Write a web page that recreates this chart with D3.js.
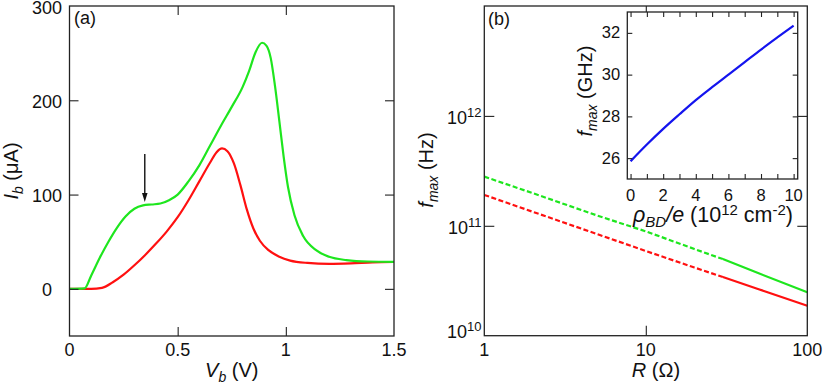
<!DOCTYPE html>
<html>
<head>
<meta charset="utf-8">
<script src="https://cdn.jsdelivr.net/npm/d3@7"></script>
<style>
  body { margin: 0; background: #fff; }
  svg text { font-family: "Liberation Sans", Arial, sans-serif; fill: #111; }
</style>
</head>
<body>
<div id="chart"></div>
<script>
// panel (a): I_b vs V_b
const greenVb = [0, 0.07, 0.1, 0.14, 0.18, 0.22, 0.26, 0.3, 0.34, 0.38, 0.42, 0.46, 0.5, 0.55, 0.6, 0.65, 0.7, 0.75, 0.8, 0.83, 0.86, 0.89, 0.91, 0.93, 0.95, 0.97, 0.99, 1.01, 1.04, 1.08, 1.14, 1.2, 1.28, 1.38, 1.5];
const greenIb = [0, 0.5, 14, 33, 50, 65, 77, 85, 88.5, 89.5, 90.5, 94, 100, 114, 131, 152, 173, 193, 214, 231, 251, 261, 258, 245, 215, 178, 140, 108, 78, 56, 41, 34, 30.5, 29, 28.7];
const redVb = [0, 0.1, 0.15, 0.2, 0.25, 0.3, 0.35, 0.4, 0.45, 0.5, 0.55, 0.6, 0.65, 0.68, 0.705, 0.73, 0.76, 0.79, 0.82, 0.85, 0.88, 0.92, 0.97, 1.02, 1.1, 1.2, 1.3, 1.4, 1.5];
const redIb = [0, 0, 1, 7, 15, 25, 36, 48, 61, 76, 94, 114, 134, 145, 149, 146, 133, 110, 84, 64, 51, 41, 34, 30, 27.5, 26.5, 27, 28, 28.5];
const arrowVb = 0.348, arrowFrom = 143, arrowTo = 92;
const aXTicks = [0, 0.5, 1, 1.5];
const aYTicks = [0, 100, 200, 300];

// panel (b): f_max vs R
const rValues = [1, 2, 5, 10, 20, 30, 50, 100];
const fmaxGreen = [2.8e11, 1.98e11, 1.24e11, 8.9e10, 6.15e10, 4.98e10, 3.7e10, 2.48e10];
const fmaxRed = [1.91e11, 1.34e11, 8.4e10, 5.9e10, 4.17e10, 3.42e10, 2.65e10, 1.87e10];
const rDashEnd = 30;
const bXTicks = [1, 10, 100];
const bYTicks = [1e10, 1e11, 1e12];

// inset: f_max (GHz) vs rho_BD/e
const rhoValues = [0, 1, 2, 3, 4, 5, 6, 7, 8, 9, 10];
const fmaxGHz = [25.85, 26.65, 27.4, 28.1, 28.78, 29.4, 30.0, 30.6, 31.2, 31.78, 32.35];
const insetXTicks = [0, 2, 4, 6, 8, 10];
const insetYTicks = [26, 28, 30, 32];

const GREEN = "#1ee61e", RED = "#ff1010", BLUE = "#1414ee";

const svg = d3.select("#chart").append("svg")
  .attr("width", 831).attr("height", 385);

function frame(x, y, tickLen, xt, yt) {
  const [x0, x1] = x.range(), [y0, y1] = y.range();
  const g = svg.append("g");
  const ax = [
    [d3.axisBottom(x), `translate(0,${y0})`, xt],
    [d3.axisTop(x), `translate(0,${y1})`, xt],
    [d3.axisLeft(y), `translate(${x0},0)`, yt],
    [d3.axisRight(y), `translate(${x1},0)`, yt]
  ];
  ax.forEach(([a, tr, tv]) => {
    const s = g.append("g").attr("transform", tr)
      .call(a.tickValues(tv).tickSize(-tickLen).tickFormat(""));
    s.select(".domain").remove();
    s.selectAll(".tick line").attr("stroke", "#222").attr("stroke-width", 1.1);
  });
  g.append("rect")
    .attr("x", x0).attr("y", y1).attr("width", x1 - x0).attr("height", y0 - y1)
    .attr("fill", "none").attr("stroke", "#222").attr("stroke-width", 1.3);
  return g;
}

// ---------- panel (a)
const xa = d3.scaleLinear().domain([0, 1.5]).range([69.5, 394]);
const ya = d3.scaleLinear().domain([-50, 300]).range([336, 6]);

const lineA = d3.line().x(d => xa(d[0])).y(d => ya(d[1])).curve(d3.curveMonotoneX);
svg.append("path").datum(redVb.map((v, i) => [v, redIb[i]]))
  .attr("d", lineA).attr("fill", "none").attr("stroke", RED).attr("stroke-width", 2.2);
svg.append("path").datum(greenVb.map((v, i) => [v, greenIb[i]]))
  .attr("d", lineA).attr("fill", "none").attr("stroke", GREEN).attr("stroke-width", 2.2);

frame(xa, ya, 9, aXTicks.slice(1, 3), aYTicks.slice(0, 3));

svg.append("g").selectAll("text").data(aXTicks).join("text")
  .attr("x", d => xa(d)).attr("y", 356).attr("text-anchor", "middle")
  .attr("font-size", 18).text(d => d);
svg.append("g").selectAll("text").data(aYTicks).join("text")
  .attr("x", 47).attr("y", d => ya(d) + 7.5).attr("text-anchor", "middle")
  .attr("font-size", 18).text(d => d);

// arrow
svg.append("line")
  .attr("x1", xa(arrowVb)).attr("x2", xa(arrowVb))
  .attr("y1", ya(arrowFrom)).attr("y2", ya(arrowTo) - 6)
  .attr("stroke", "#111").attr("stroke-width", 1.4);
svg.append("path")
  .attr("d", `M${xa(arrowVb) - 2.8},${ya(arrowTo) - 9} L${xa(arrowVb)},${ya(arrowTo)} L${xa(arrowVb) + 2.8},${ya(arrowTo) - 9} Z`)
  .attr("fill", "#111");

svg.append("text").attr("x", 74).attr("y", 24).attr("font-size", 18).text("(a)");

let t = svg.append("text").attr("x", xa(0.75)).attr("y", 377)
  .attr("text-anchor", "middle").attr("font-size", 20);
t.append("tspan").attr("font-style", "italic").text("V");
t.append("tspan").attr("font-style", "italic").attr("font-size", 14).attr("dy", 5).text("b");
t.append("tspan").attr("dy", -5).text(" (V)");

t = svg.append("text").attr("transform", `translate(18,${ya(125)}) rotate(-90)`)
  .attr("text-anchor", "middle").attr("font-size", 20);
t.append("tspan").attr("font-style", "italic").text("I");
t.append("tspan").attr("font-style", "italic").attr("font-size", 14).attr("dy", 5).text("b");
t.append("tspan").attr("dy", -5).text(" (μA)");

// ---------- panel (b)
const xb = d3.scaleLog().domain([1, 100]).range([484.3, 807.3]);
const yb = d3.scaleLog().domain([1e10, 1e13]).range([335.7, 6]);

const lineB = d3.line().x(d => xb(d[0])).y(d => yb(d[1]));
[[fmaxRed, RED], [fmaxGreen, GREEN]].forEach(([vals, col]) => {
  const pts = rValues.map((r, i) => [r, vals[i]]);
  svg.append("path").datum(pts.filter(d => d[0] <= rDashEnd))
    .attr("d", lineB).attr("fill", "none").attr("stroke", col)
    .attr("stroke-width", 2.2).attr("stroke-dasharray", "5,2.5");
  svg.append("path").datum(pts.filter(d => d[0] >= rDashEnd))
    .attr("d", lineB).attr("fill", "none").attr("stroke", col).attr("stroke-width", 2.2);
});

frame(xb, yb, 10, [10], [1e11, 1e12]);

svg.append("g").selectAll("text").data(bXTicks).join("text")
  .attr("x", d => xb(d)).attr("y", 356).attr("text-anchor", "middle")
  .attr("font-size", 18).text(d => d);
const yl = svg.append("g").selectAll("text").data(bYTicks).join("text")
  .attr("x", 481.5).attr("y", d => Math.min(yb(d) + 8.5, 337.5)).attr("text-anchor", "end")
  .attr("font-size", 18);
yl.append("tspan").text("10");
yl.append("tspan").attr("font-size", 13).attr("dy", -7).text(d => Math.round(Math.log10(d)));

svg.append("text").attr("x", 488).attr("y", 25).attr("font-size", 18).text("(b)");

t = svg.append("text").attr("x", 656).attr("y", 377)
  .attr("text-anchor", "middle").attr("font-size", 20);
t.append("tspan").attr("font-style", "italic").text("R");
t.append("tspan").text(" (Ω)");

t = svg.append("text").attr("transform", `translate(433,170) rotate(-90)`)
  .attr("text-anchor", "middle").attr("font-size", 20);
t.append("tspan").attr("font-style", "italic").text("f");
t.append("tspan").attr("font-style", "italic").attr("font-size", 14).attr("dy", 5).text("max");
t.append("tspan").attr("dy", -5).text(" (Hz)");

// ---------- inset
const xi = d3.scaleLinear().domain([-0.2, 10.25]).range([627.3, 797.7]);
const yi = d3.scaleLinear().domain([25, 33]).range([179, 12]);

svg.append("rect").attr("x", 627.3).attr("y", 12).attr("width", 797.7 - 627.3).attr("height", 167)
  .attr("fill", "#fff");
svg.append("path").datum(rhoValues.map((r, i) => [r, fmaxGHz[i]]))
  .attr("d", d3.line().x(d => xi(d[0])).y(d => yi(d[1])).curve(d3.curveMonotoneX))
  .attr("fill", "none").attr("stroke", BLUE).attr("stroke-width", 2.2);

frame(xi, yi, 5, d3.range(0, 11), insetYTicks);

svg.append("g").selectAll("text").data(insetXTicks).join("text")
  .attr("x", d => xi(d)).attr("y", 201).attr("text-anchor", "middle")
  .attr("font-size", 16.5).text(d => d);
svg.append("g").selectAll("text").data(insetYTicks).join("text")
  .attr("x", 611).attr("y", d => yi(d) + 5.5).attr("text-anchor", "middle")
  .attr("font-size", 16.5).text(d => d);

t = svg.append("text").attr("x", 713).attr("y", 222)
  .attr("text-anchor", "middle").attr("font-size", 21.5);
t.append("tspan").attr("font-style", "italic").text("ρ");
t.append("tspan").attr("font-style", "italic").attr("font-size", 15).attr("dy", 5).text("BD");
t.append("tspan").attr("font-style", "italic").attr("dy", -5).text("/e");
t.append("tspan").text(" (10");
t.append("tspan").attr("font-size", 15).attr("dy", -7).text("12");
t.append("tspan").attr("dy", 7).text(" cm");
t.append("tspan").attr("font-size", 15).attr("dy", -7).text("-2");
t.append("tspan").attr("dy", 7).text(")");

t = svg.append("text").attr("transform", `translate(592,91) rotate(-90)`)
  .attr("text-anchor", "middle").attr("font-size", 20);
t.append("tspan").attr("font-style", "italic").text("f");
t.append("tspan").attr("font-style", "italic").attr("font-size", 14).attr("dy", 5).text("max");
t.append("tspan").attr("dy", -5).text(" (GHz)");
</script>
</body>
</html>
